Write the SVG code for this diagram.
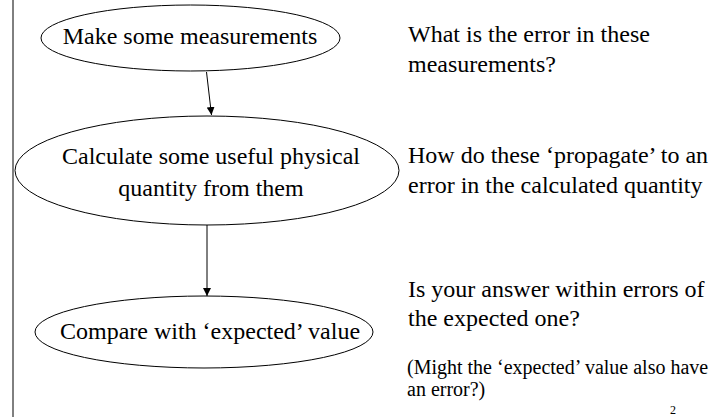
<svg xmlns="http://www.w3.org/2000/svg" width="722" height="417" viewBox="0 0 722 417">
<defs>
<style>
.t{font-family:"Liberation Serif","Times New Roman",serif;font-size:24px;fill:#000}
.s{font-family:"Liberation Serif","Times New Roman",serif;font-size:20px;fill:#000}
.n{font-family:"Liberation Serif","Times New Roman",serif;font-size:12px;fill:#000}
.node ellipse{fill:#fff;stroke:#000;stroke-width:1}
.edge{stroke:#000;stroke-width:1;fill:none}
</style>
<marker id="ah" viewBox="0 0 10 10" refX="10" refY="5" markerWidth="8" markerHeight="8" markerUnits="userSpaceOnUse" orient="auto">
<path d="M0,0 L10,5 L0,10 z" fill="#000"/>
</marker>
</defs>
<rect width="722" height="417" fill="#fff"/>
<line x1="13" y1="0" x2="13" y2="417" stroke="#000" stroke-width="1"/>
<g id="connectors">
<line class="edge" x1="206.5" y1="72" x2="211.5" y2="115" marker-end="url(#ah)"/>
<line class="edge" x1="207" y1="225" x2="207" y2="296" marker-end="url(#ah)"/>
</g>
<g id="node1" class="node">
<ellipse cx="190.5" cy="38" rx="149.5" ry="33"/>
<text class="t" x="190" y="44" text-anchor="middle">Make some measurements</text>
</g>
<g id="node2" class="node">
<ellipse cx="207" cy="170.5" rx="192" ry="54.5"/>
<text class="t" x="211" y="164" text-anchor="middle">Calculate some useful physical</text>
<text class="t" x="211" y="196" text-anchor="middle">quantity from them</text>
</g>
<g id="node3" class="node">
<ellipse cx="204" cy="332" rx="169" ry="36"/>
<text class="t" x="210" y="339" text-anchor="middle">Compare with ‘expected’ value</text>
</g>
<g id="notes">
<text class="t" x="408" y="42">What is the error in these</text>
<text class="t" x="408" y="72">measurements?</text>
<text class="t" x="408" y="163">How do these ‘propagate’ to an</text>
<text class="t" x="408" y="193">error in the calculated quantity</text>
<text class="t" x="408" y="297">Is your answer within errors of</text>
<text class="t" x="408" y="326">the expected one?</text>
<text class="s" x="407" y="374">(Might the ‘expected’ value also have</text>
<text class="s" x="407" y="396">an error?)</text>
<text class="n" x="670" y="414">2</text>
</g>
</svg>
